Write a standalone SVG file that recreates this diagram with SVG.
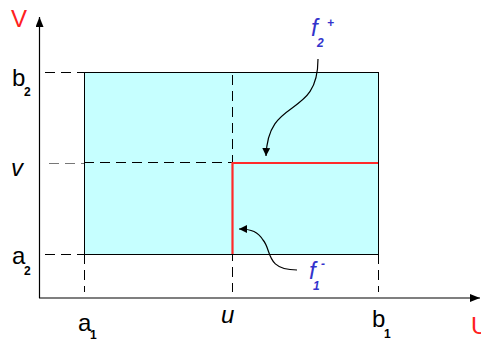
<svg xmlns="http://www.w3.org/2000/svg" width="481" height="340" viewBox="0 0 481 340">
<style>
.lbl{font-family:"Liberation Sans",Arial,sans-serif;font-size:24px;fill:#000}
.sub{font-family:"Liberation Sans",Arial,sans-serif;font-size:12px;font-weight:bold;fill:#000}
.it{font-style:italic}
.blue{fill:#3333cc;font-style:italic}
.red{fill:#ff2020}
.dash{stroke:#000;stroke-width:1;stroke-dasharray:10,6;fill:none}
.axis{stroke:#000;stroke-width:1.2;fill:none}
.curve{stroke:#000;stroke-width:1.2;fill:none}
</style>
<defs>
<marker id="ah" viewBox="0 0 10 10" refX="10" refY="5" markerWidth="8" markerHeight="8" markerUnits="userSpaceOnUse" orient="auto">
<path d="M0,0 L10,5 L0,10 Z" fill="#000"/>
</marker>
<marker id="ax" viewBox="0 0 10 8" refX="10" refY="4" markerWidth="10" markerHeight="8" markerUnits="userSpaceOnUse" orient="auto">
<path d="M0,0 L10,4 L0,8 Z" fill="#000"/>
</marker>
</defs>
<g id="region">
<rect x="84.5" y="72.5" width="294" height="182" fill="#c6ffff" stroke="#000" stroke-width="1"/>
</g>
<g id="guides">
<line class="dash" x1="45" y1="72.5" x2="84" y2="72.5"/>
<line class="dash" x1="45" y1="254.5" x2="84" y2="254.5"/>
<line class="dash" x1="49" y1="163.5" x2="84" y2="163.5" style="stroke:#777"/>
<line class="dash" x1="84" y1="162.5" x2="232" y2="162.5"/>
<line class="dash" x1="232.5" y1="75" x2="232.5" y2="292"/>
<line class="dash" x1="84.5" y1="254" x2="84.5" y2="292"/>
<line class="dash" x1="378.5" y1="254" x2="378.5" y2="292"/>
</g>
<g id="path-red">
<polyline points="232.5,254 232.5,163 378,163" fill="none" stroke="#ff2a2a" stroke-width="2.2"/>
</g>
<g id="axes">
<line class="axis" x1="39.5" y1="298" x2="39.5" y2="17" marker-end="url(#ax)"/>
<line class="axis" x1="39" y1="298" x2="480" y2="298" marker-end="url(#ax)"/>
</g>
<g id="connectors">
<path class="curve" d="M318,59 C318,120 268,95 266,156" marker-end="url(#ah)"/>
<path class="curve" d="M297,270 C265,270 272,250 263,240 C258,232 252,229 239,229" marker-end="url(#ah)"/>
</g>
<g id="labels">
<text class="lbl red" x="11" y="27">V</text>
<text class="lbl" x="12" y="86">b</text><text class="sub" x="24" y="96">2</text>
<text class="lbl it" x="11" y="176">v</text>
<text class="lbl" x="12" y="264">a</text><text class="sub" x="24" y="275">2</text>
<text class="lbl" x="78" y="331">a</text><text class="sub" x="90" y="339">1</text>
<text class="lbl it" x="221" y="323">u</text>
<text class="lbl" x="372" y="327">b</text><text class="sub" x="384" y="338">1</text>
<text class="lbl red" x="471" y="334">U</text>
</g>
<g id="label-f2">
<text class="lbl blue" x="311" y="36">f</text><text class="sub blue" x="317" y="47">2</text><text class="sub blue" x="327" y="27">+</text>
</g>
<g id="label-f1">
<text class="lbl blue" x="309" y="279">f</text><text class="sub blue" x="313" y="290">1</text><text class="sub blue" x="321" y="268">-</text>
</g>
</svg>
